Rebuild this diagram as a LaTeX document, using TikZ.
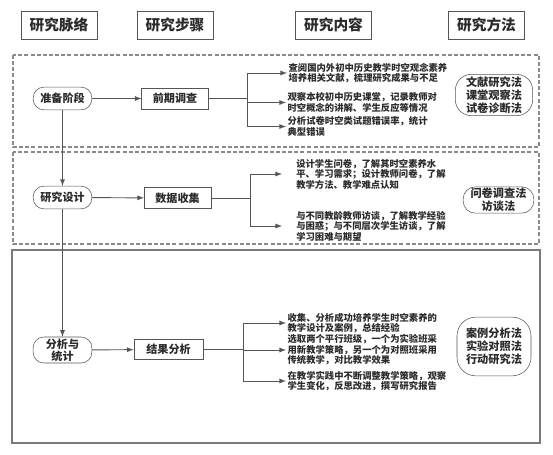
\documentclass[tikz,border=0pt]{standalone}
\usepackage{fontspec}
\setmainfont{Noto Sans CJK SC}
\usetikzlibrary{calc,arrows,positioning}
\definecolor{lnc}{HTML}{555555}
\definecolor{txc}{HTML}{2B2B2B}
\definecolor{dsc}{HTML}{8A8A8A}
\definecolor{bxc}{HTML}{7A7A7A}
\tikzset{
    head/.style = {draw=lnc, rectangle, text=txc,
        minimum height=21pt,
        minimum width=57pt, font=\fontsize{11}{12}\selectfont\bfseries},
    stage/.style = {draw=lnc, rectangle, rounded corners=8pt, text=txc, align=center,
        minimum height=17pt,
        minimum width=44pt, inner sep=1pt, font=\fontsize{8.3}{9}\selectfont\bfseries},
    work/.style = {draw=lnc, rectangle, text=txc,
        minimum height=16pt,
        minimum width=50pt, font=\fontsize{8.3}{10}\selectfont\bfseries},
    item/.style = {anchor=west, align=left, text=txc, inner sep=1pt,
        font=\fontsize{7}{7.9}\selectfont\bfseries},
    way/.style = {draw=lnc, rectangle, rounded corners=12pt, text=txc, align=center,
        inner sep=1pt, font=\fontsize{8.4}{9.6}\selectfont\bfseries},
    line/.style = {draw=lnc, line width=0.7pt},
    arrow/.style = {draw=lnc, line width=0.7pt, -latex},
    zone/.style = {draw=dsc, line width=0.8pt, dash pattern=on 3pt off 1.6pt}
}
\begin{document}
\begin{tikzpicture}[x=0.75pt,y=-0.75pt]
    \useasboundingbox (0,0) rectangle (553,454);
    \draw[zone] (13,55) rectangle (539,147);
    \draw[zone] (13,152) rectangle (539,244);
    \draw[draw=bxc, line width=0.9pt] (12,250) rectangle (540,443);
    \node[head] (hmlu) at (59,25) {研究脉络};
    \node[head] (hbz) at (175,25) {研究步骤};
    \node[head] (hnr) at (333.5,25) {研究内容};
    \node[head] (hff) at (486.5,25) {研究方法};
    \node[stage] (zbjd) at (62.5,98.5) {准备阶段};
    \node[stage] (yjsj) at (62.5,197.5) {研究设计};
    \node[stage, minimum height=19.5pt] (fxtj) at (62.5,350) {分析与\\统计};
    \node[work] (qqdc) at (175,98.5) {前期调查};
    \node[work] (sjsj) at (177.5,198) {数据收集};
    \node[work, minimum height=14.5pt, minimum width=52pt] (jgfx) at (168.5,349.5) {结果分析};
    \node[item] (t1) at (287,73) {查阅国内外初中历史教学时空观念素养\\培养相关文献，梳理研究成果与不足};
    \node[item] (t2) at (286,102.5) {观察本校初中历史课堂，记录教师对\\时空概念的讲解、学生反应等情况};
    \node[item] (t3) at (286,126.5) {分析试卷时空类试题错误率，统计\\典型错误};
    \node[item, inner xsep=6pt] (t4) at (288,174) {设计学生问卷，了解其时空素养水\\平、学习需求；设计教师问卷，了解\\教学方法、教学难点认知};
    \node[item, inner xsep=6pt] (t5) at (288,226) {与不同教龄教师访谈，了解教学经验\\与困惑；与不同层次学生访谈，了解\\学习困难与期望};
    \node[item] (t6) at (286,323) {收集、分析成功培养学生时空素养的\\教学设计及案例，总结经验};
    \node[item] (t7) at (286,350) {选取两个平行班级，一个为实验班采\\用新教学策略，另一个为对照班采用\\传统教学，对比教学效果};
    \node[item] (t8) at (286,381) {在教学实践中不断调整教学策略，观察\\学生变化，反思改进，撰写研究报告};
    \node[way, minimum width=58pt, minimum height=31pt] (ff1) at (494,95) {文献研究法\\课堂观察法\\试卷诊断法};
    \node[way, minimum width=53pt, minimum height=19pt, rounded corners=9pt] (ff2) at (498.5,200) {问卷调查法\\访谈法};
    \node[way, minimum width=55.5pt, minimum height=44pt, rounded corners=14pt] (ff3) at (494,346.5) {案例分析法\\实验对照法\\行动研究法};
    \draw[arrow] (zbjd) -- (qqdc);
    \draw[arrow] (yjsj) -- (sjsj);
    \draw[arrow] (fxtj) -- (jgfx);
    \draw[arrow] (zbjd) -- (yjsj);
    \draw[arrow] (yjsj) -- (fxtj);
    \coordinate (fz1) at (247,0);
    \coordinate (fz2) at (250,0);
    \coordinate (fz3) at (243,0);
    \draw[line] (qqdc.east) -- (qqdc.east -| fz1);
    \draw[line] (fz1 |- t1.west) -- (fz1 |- t3.west);
    \draw[arrow] (fz1 |- t1.west) -- (t1.west);
    \draw[arrow] (fz1 |- t2.west) -- (t2.west);
    \draw[arrow] (fz1 |- t3.west) -- (t3.west);
    \draw[line] (sjsj.east) -- (sjsj.east -| fz2);
    \draw[line] (fz2 |- t4.west) -- (fz2 |- t5.west);
    \draw[arrow] (fz2 |- t4.west) -- ([xshift=-4.5pt]t4.west);
    \draw[arrow] (fz2 |- t5.west) -- ([xshift=-4.5pt]t5.west);
    \draw[line] (jgfx.east) -- (jgfx.east -| fz3);
    \draw[line] (fz3 |- t6.west) -- (fz3 |- t8.west);
    \draw[arrow] (fz3 |- t6.west) -- (t6.west);
    \draw[arrow] (fz3 |- t7.west) -- (t7.west);
    \draw[arrow] (fz3 |- t8.west) -- (t8.west);
\end{tikzpicture}
\end{document}
